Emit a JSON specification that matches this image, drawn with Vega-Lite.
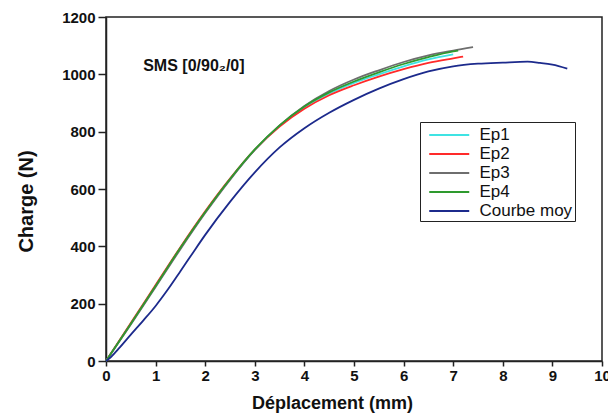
{
  "$schema": "https://vega.github.io/schema/vega-lite/v6.json",
  "width": 496,
  "height": 344,
  "autosize": {"type": "none"},
  "padding": {"left": 106, "top": 17, "right": 6, "bottom": 57},
  "background": "white",
  "config": {
    "view": {"stroke": "#222", "strokeWidth": 1.5},
    "font": "Liberation Sans"
  },
  "datasets": {
    "curves": [
      {"s": "Ep1", "x": 0, "y": 0}, {"s": "Ep1", "x": 0.5, "y": 130}, {"s": "Ep1", "x": 1, "y": 262}, {"s": "Ep1", "x": 1.5, "y": 394}, {"s": "Ep1", "x": 2, "y": 519}, {"s": "Ep1", "x": 2.5, "y": 634}, {"s": "Ep1", "x": 3, "y": 737}, {"s": "Ep1", "x": 3.5, "y": 820}, {"s": "Ep1", "x": 4, "y": 885}, {"s": "Ep1", "x": 4.5, "y": 933}, {"s": "Ep1", "x": 5, "y": 970}, {"s": "Ep1", "x": 5.5, "y": 1000}, {"s": "Ep1", "x": 6, "y": 1028}, {"s": "Ep1", "x": 6.5, "y": 1052}, {"s": "Ep1", "x": 7, "y": 1070},
      {"s": "Ep2", "x": 0, "y": 0}, {"s": "Ep2", "x": 0.5, "y": 133}, {"s": "Ep2", "x": 1, "y": 265}, {"s": "Ep2", "x": 1.5, "y": 397}, {"s": "Ep2", "x": 2, "y": 522}, {"s": "Ep2", "x": 2.5, "y": 636}, {"s": "Ep2", "x": 3, "y": 737}, {"s": "Ep2", "x": 3.5, "y": 818}, {"s": "Ep2", "x": 4, "y": 880}, {"s": "Ep2", "x": 4.5, "y": 927}, {"s": "Ep2", "x": 5, "y": 962}, {"s": "Ep2", "x": 5.5, "y": 992}, {"s": "Ep2", "x": 6, "y": 1018}, {"s": "Ep2", "x": 6.5, "y": 1040}, {"s": "Ep2", "x": 7, "y": 1056}, {"s": "Ep2", "x": 7.2, "y": 1062},
      {"s": "Ep3", "x": 0, "y": 0}, {"s": "Ep3", "x": 0.5, "y": 127}, {"s": "Ep3", "x": 1, "y": 258}, {"s": "Ep3", "x": 1.5, "y": 390}, {"s": "Ep3", "x": 2, "y": 516}, {"s": "Ep3", "x": 2.5, "y": 632}, {"s": "Ep3", "x": 3, "y": 736}, {"s": "Ep3", "x": 3.5, "y": 822}, {"s": "Ep3", "x": 4, "y": 890}, {"s": "Ep3", "x": 4.5, "y": 942}, {"s": "Ep3", "x": 5, "y": 982}, {"s": "Ep3", "x": 5.5, "y": 1014}, {"s": "Ep3", "x": 6, "y": 1043}, {"s": "Ep3", "x": 6.5, "y": 1066}, {"s": "Ep3", "x": 7, "y": 1083}, {"s": "Ep3", "x": 7.4, "y": 1095},
      {"s": "Ep4", "x": 0, "y": 0}, {"s": "Ep4", "x": 0.5, "y": 130}, {"s": "Ep4", "x": 1, "y": 262}, {"s": "Ep4", "x": 1.5, "y": 395}, {"s": "Ep4", "x": 2, "y": 520}, {"s": "Ep4", "x": 2.5, "y": 635}, {"s": "Ep4", "x": 3, "y": 738}, {"s": "Ep4", "x": 3.5, "y": 822}, {"s": "Ep4", "x": 4, "y": 888}, {"s": "Ep4", "x": 4.5, "y": 937}, {"s": "Ep4", "x": 5, "y": 975}, {"s": "Ep4", "x": 5.5, "y": 1007}, {"s": "Ep4", "x": 6, "y": 1036}, {"s": "Ep4", "x": 6.5, "y": 1060}, {"s": "Ep4", "x": 7, "y": 1080}, {"s": "Ep4", "x": 7.1, "y": 1083},
      {"s": "Courbe moy", "x": 0, "y": 0}, {"s": "Courbe moy", "x": 0.1, "y": 14}, {"s": "Courbe moy", "x": 0.25, "y": 42}, {"s": "Courbe moy", "x": 0.5, "y": 92}, {"s": "Courbe moy", "x": 0.75, "y": 141}, {"s": "Courbe moy", "x": 1, "y": 192}, {"s": "Courbe moy", "x": 1.25, "y": 250}, {"s": "Courbe moy", "x": 1.5, "y": 313}, {"s": "Courbe moy", "x": 1.75, "y": 377}, {"s": "Courbe moy", "x": 2, "y": 440}, {"s": "Courbe moy", "x": 2.5, "y": 555}, {"s": "Courbe moy", "x": 3, "y": 658}, {"s": "Courbe moy", "x": 3.5, "y": 745}, {"s": "Courbe moy", "x": 4, "y": 812}, {"s": "Courbe moy", "x": 4.5, "y": 866}, {"s": "Courbe moy", "x": 5, "y": 911}, {"s": "Courbe moy", "x": 5.5, "y": 950}, {"s": "Courbe moy", "x": 6, "y": 983}, {"s": "Courbe moy", "x": 6.5, "y": 1010}, {"s": "Courbe moy", "x": 7, "y": 1028}, {"s": "Courbe moy", "x": 7.5, "y": 1037}, {"s": "Courbe moy", "x": 8, "y": 1041}, {"s": "Courbe moy", "x": 8.5, "y": 1044}, {"s": "Courbe moy", "x": 8.75, "y": 1040}, {"s": "Courbe moy", "x": 9, "y": 1034}, {"s": "Courbe moy", "x": 9.3, "y": 1020}
    ],
    "note": [{"x": 0.75, "y": 1030, "label": "SMS [0/90₂/0]"}]
  },
  "layer": [
    {
      "data": {"name": "curves"},
      "mark": {"type": "line", "strokeWidth": 1.8, "interpolate": "monotone"},
      "encoding": {
        "x": {
          "field": "x", "type": "quantitative",
          "scale": {"domain": [0, 10], "nice": false},
          "axis": {
            "title": "Déplacement (mm)", "values": [0,1,2,3,4,5,6,7,8,9,10], "grid": false,
            "domainColor": "#222", "domainWidth": 1.5, "tickColor": "#222", "tickWidth": 1.5, "tickSize": 5,
            "labelFont": "Liberation Sans", "labelFontSize": 15, "labelFontWeight": "bold", "labelColor": "#111", "labelPadding": 2, "labelFlush": false,
            "titleFont": "Liberation Sans", "titleFontSize": 18, "titleFontWeight": "bold", "titleColor": "#111",
            "titleX": 226, "titleY": 42, "titleAlign": "center", "titleBaseline": "middle"
          }
        },
        "y": {
          "field": "y", "type": "quantitative",
          "scale": {"domain": [0, 1200], "nice": false},
          "axis": {
            "title": "Charge (N)", "values": [0,200,400,600,800,1000,1200], "format": "d", "grid": false,
            "domainColor": "#222", "domainWidth": 1.5, "tickColor": "#222", "tickWidth": 1.5, "tickSize": 8,
            "labelFont": "Liberation Sans", "labelFontSize": 15, "labelFontWeight": "bold", "labelColor": "#111", "labelPadding": 3, "labelFlush": false,
            "titleFont": "Liberation Sans", "titleFontSize": 20, "titleFontWeight": "bold", "titleColor": "#111",
            "titleX": -80, "titleY": 184, "titleAlign": "center", "titleBaseline": "middle", "titleAngle": -90
          }
        },
        "color": {
          "field": "s", "type": "nominal",
          "scale": {"domain": ["Ep1", "Ep2", "Ep3", "Ep4", "Courbe moy"], "range": ["#3fe3e3", "#ff2a2a", "#6e6e6e", "#2e9a2e", "#1c2a8c"]},
          "legend": {
            "title": null, "orient": "none", "legendX": 314, "legendY": 105,
            "strokeColor": "#222", "fillColor": "white", "padding": 2,
            "symbolType": "M-0.385,0H3.718", "symbolSize": 380, "symbolStrokeWidth": 2,
            "labelFont": "Liberation Sans", "labelFontSize": 17, "labelColor": "#111", "labelOffset": 35.5,
            "rowPadding": 0, "labelLimit": 200
          }
        },
        "order": {"field": "x", "type": "quantitative"}
      }
    },
    {
      "data": {"name": "note"},
      "mark": {"type": "text", "align": "left", "baseline": "middle", "font": "Liberation Sans", "fontSize": 16, "fontWeight": "bold", "color": "#111"},
      "encoding": {
        "x": {"field": "x", "type": "quantitative"},
        "y": {"field": "y", "type": "quantitative"},
        "text": {"field": "label"}
      }
    }
  ]
}
